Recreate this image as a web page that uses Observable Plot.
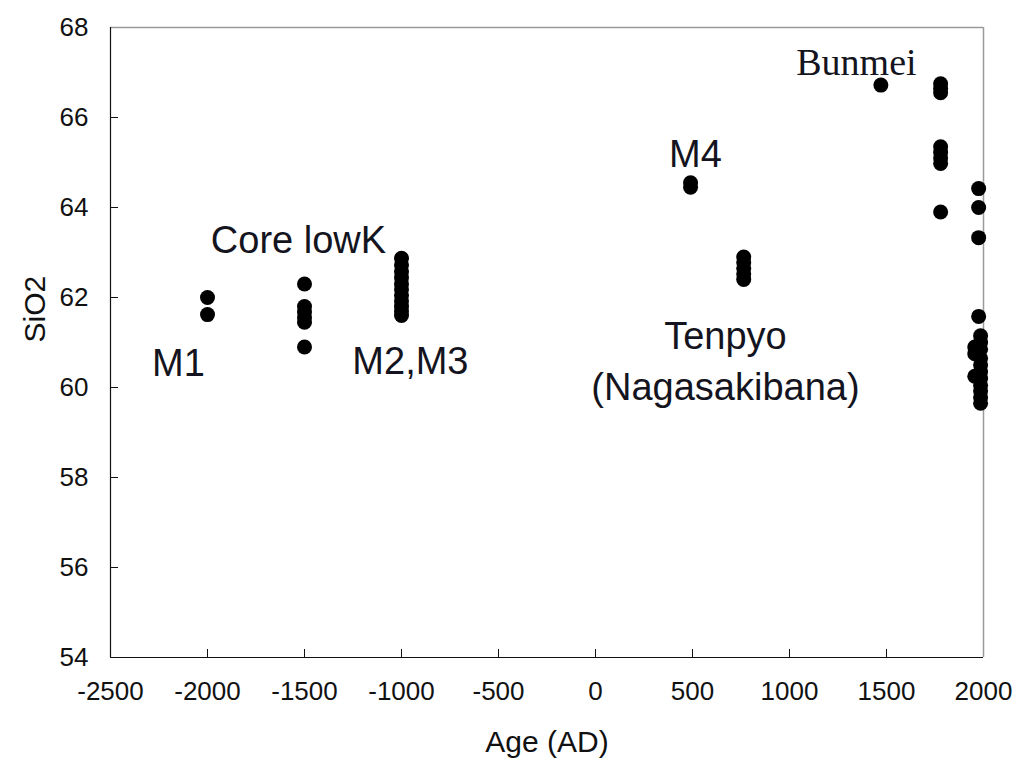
<!DOCTYPE html>
<html>
<head>
<meta charset="utf-8">
<script src="https://cdn.jsdelivr.net/npm/d3@7"></script>
<script src="https://cdn.jsdelivr.net/npm/@observablehq/plot@0.6"></script>
<style>
  html, body { margin: 0; padding: 0; background: #fff; }
  #chart svg { display: block; }
</style>
</head>
<body>
<div id="chart"></div>
<script>
// SiO2 content (wt%) of eruptive products by age (AD)
const sampleAge = [
  -2000, -2000,
  -1500, -1500, -1500, -1500, -1500, -1500,
  -1000, -1000, -1000, -1000, -1000, -1000, -1000, -1000, -1000, -1000, -1000,
  490, 490,
  764, 764, 764, 764, 764,
  1471,
  1779, 1779, 1779, 1779, 1779, 1779, 1779, 1779,
  1975, 1975, 1975, 1975,
  1955, 1955, 1955,
  1985, 1985, 1985, 1985, 1985, 1985, 1985, 1985, 1985, 1985, 1985
];
const sampleSiO2 = [
  62.0, 61.62,
  62.3, 61.8, 61.68, 61.55, 61.45, 60.9,
  62.87, 62.72, 62.57, 62.44, 62.3, 62.18, 62.05, 61.92, 61.8, 61.7, 61.6,
  64.55, 64.45,
  62.9, 62.78, 62.65, 62.52, 62.4,
  66.72,
  66.75, 66.65, 66.55, 65.35, 65.22, 65.1, 64.98, 63.9,
  64.42, 64.0, 63.33, 61.58,
  60.9, 60.75, 60.25,
  61.15, 61.0, 60.85, 60.65, 60.5, 60.35, 60.2, 60.05, 59.92, 59.78, 59.65
];

// Eruption labels and where they sit
const labelText = ["M1", "Core lowK", "M2,M3", "M4", "Tenpyo", "(Nagasakibana)"];
const labelAge  = [-2150, -1531, -954, 515, 670, 670];
const labelSiO2 = [60.53, 63.27, 60.56, 65.18, 61.13, 60.0];
const serifLabel = {text: "Bunmei", age: 1345, sio2: 67.22};

const xTicks = [-2500, -2000, -1500, -1000, -500, 0, 500, 1000, 1500, 2000];
const yTicks = [54, 56, 58, 60, 62, 64, 66, 68];

const samples = sampleAge.map((a, i) => ({age: a, sio2: sampleSiO2[i]}));
const labels = labelText.map((t, i) => ({text: t, age: labelAge[i], sio2: labelSiO2[i]}));

const W = 1016, H = 769;
const mL = 110, mR = 33, mT = 27, mB = 112;
const innerW = W - mL - mR, innerH = H - mT - mB;

const plain = d => String(d);

const chart = Plot.plot({
  width: W,
  height: H,
  marginLeft: mL,
  marginRight: mR,
  marginTop: mT,
  marginBottom: mB,
  style: {fontFamily: "'Liberation Sans', Arial, sans-serif", color: "#111", background: "#fff"},
  x: {domain: [-2500, 2000], ticks: xTicks},
  y: {domain: [54, 68], ticks: yTicks},
  marks: [
    // tick labels
    Plot.axisX(xTicks, {tickSize: 0, tickPadding: 24, fontSize: 26, tickFormat: plain, label: null}),
    Plot.axisY(yTicks, {tickSize: 0, tickPadding: 22, fontSize: 26, tickFormat: plain, label: null}),
    // inward tick marks
    Plot.tickX(xTicks, {x: d => d, insetTop: innerH - 8, stroke: "#111"}),
    Plot.tickY(yTicks, {y: d => d, insetRight: innerW - 8, stroke: "#111"}),
    // frame: dark left/bottom, grey top/right
    Plot.ruleY([68], {stroke: "#9a9a9a", strokeWidth: 1.5}),
    Plot.ruleX([2000], {stroke: "#9a9a9a", strokeWidth: 1.5}),
    Plot.ruleY([54], {stroke: "#111", strokeWidth: 1.2}),
    Plot.ruleX([-2500], {stroke: "#111", strokeWidth: 1.2}),
    // samples
    Plot.dot(samples, {x: "age", y: "sio2", r: 7.5, fill: "#000", stroke: "none"}),
    // eruption labels
    Plot.text(labels, {x: "age", y: "sio2", text: "text", fontSize: 38, fill: "#141420"}),
    Plot.text([serifLabel], {x: "age", y: "sio2", text: "text", fontSize: 38,
      fontFamily: "'Liberation Serif', 'Times New Roman', serif", fill: "#141420"}),
    // axis titles
    Plot.text(["Age (AD)"], {text: d => d, frameAnchor: "bottom", dy: 94, fontSize: 30, fill: "#111"}),
    Plot.text(["SiO2"], {text: d => d, frameAnchor: "left", dx: -75, rotate: -90, fontSize: 30, fill: "#111"})
  ]
});

document.getElementById("chart").append(chart);
</script>
</body>
</html>
